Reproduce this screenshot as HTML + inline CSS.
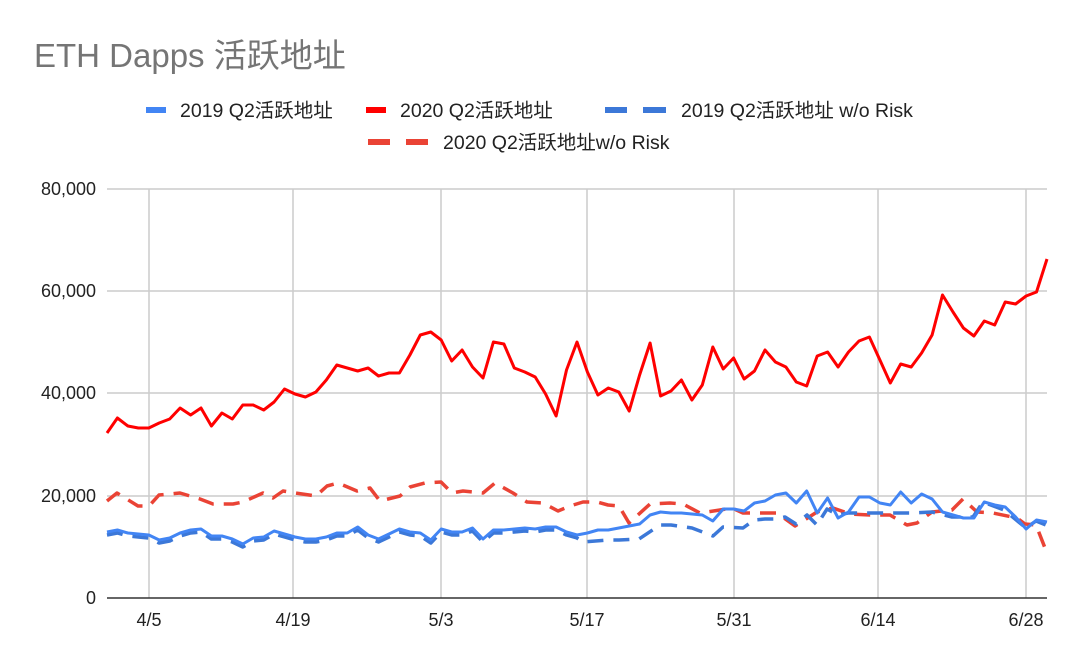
<!DOCTYPE html>
<html><head><meta charset="utf-8">
<style>
html,body{margin:0;padding:0;background:#fff;}
svg{display:block;font-family:"Liberation Sans","Noto Sans CJK SC",sans-serif;}
</style></head>
<body>
<svg id="c" width="1080" height="666" viewBox="0 0 1080 666" xmlns="http://www.w3.org/2000/svg">
<rect width="1080" height="666" fill="#fff"/>
<text x="34" y="67" font-size="33" fill="#757575">ETH Dapps 活跃地址</text>
<g font-size="19.5" fill="#222">
<line x1="146" y1="110" x2="166" y2="110" stroke="#4285f4" stroke-width="6"/>
<text x="180" y="117">2019 Q2活跃地址</text>
<line x1="366" y1="110" x2="386" y2="110" stroke="#ff0000" stroke-width="6"/>
<text x="400" y="117">2020 Q2活跃地址</text>
<line x1="605" y1="110" x2="627" y2="110" stroke="#3c78d8" stroke-width="6"/>
<line x1="643" y1="110" x2="666" y2="110" stroke="#3c78d8" stroke-width="6"/>
<text x="681" y="117">2019 Q2活跃地址 w/o Risk</text>
<line x1="368" y1="142" x2="390" y2="142" stroke="#ea4335" stroke-width="6"/>
<line x1="406" y1="142" x2="428" y2="142" stroke="#ea4335" stroke-width="6"/>
<text x="443" y="149">2020 Q2活跃地址w/o Risk</text>
</g>
<g stroke="#ccc" stroke-width="1.5">
<line x1="107" y1="189" x2="1047" y2="189"/>
<line x1="107" y1="291" x2="1047" y2="291"/>
<line x1="107" y1="393" x2="1047" y2="393"/>
<line x1="107" y1="496" x2="1047" y2="496"/>
<line x1="149" y1="189" x2="149" y2="598"/>
<line x1="293" y1="189" x2="293" y2="598"/>
<line x1="441" y1="189" x2="441" y2="598"/>
<line x1="587" y1="189" x2="587" y2="598"/>
<line x1="734" y1="189" x2="734" y2="598"/>
<line x1="878" y1="189" x2="878" y2="598"/>
<line x1="1026" y1="189" x2="1026" y2="598"/>
</g>
<line x1="107" y1="598" x2="1047" y2="598" stroke="#333" stroke-width="1.5"/>
<g font-size="18" fill="#222" text-anchor="end">
<text x="96" y="195">80,000</text>
<text x="96" y="297">60,000</text>
<text x="96" y="399">40,000</text>
<text x="96" y="502">20,000</text>
<text x="96" y="604">0</text>
</g>
<g font-size="18" fill="#222" text-anchor="middle">
<text x="149" y="626">4/5</text>
<text x="293" y="626">4/19</text>
<text x="441" y="626">5/3</text>
<text x="587" y="626">5/17</text>
<text x="734" y="626">5/31</text>
<text x="878" y="626">6/14</text>
<text x="1026" y="626">6/28</text>
</g>
<g id="series" fill="none" stroke-linejoin="round"></g>
</svg>
<script>
var X=function(i){return 107+i*10.444;};
var red=[433,418,426,428,428,423,419,408,415,408,426,413,419,405,405,410,402,389,394,397,392,380,365,368,371,368,376,373,373,355,335,332,340,361,350,367,378,342,344,368,372,377,394,416,370,342,
372,395,388,392,411,375,343,396,391,380,400,385,347,369,358,379,371,350,362,367,382,386,356,352,367,352,341,337,360,383,364,367,353,335,295,312,328,336,321,325,302,304,296,292,259];
var blue=[532,530,533,534,535,540,538,533,530,529,536,536,539,544,538,537,531,534,537,539,539,537,533,533,527,535,539,534,529,532,533,540,529,532,532,528,539,530,530,529,528,529,527,527,532,535,
533,530,530,528,526,524,515,512,513,513,514,515,521,509,509,511,503,501,495,493,503,491,513,498,518,512,497,497,503,505,492,503,494,499,512,515,518,518,502,505,507,517,529,520,522];
function pts(a){return a.map(function(y,i){return X(i).toFixed(1)+","+y;}).join(" ");}
function ptsXY(a){return a.map(function(p){return p[0]+","+p[1];}).join(" ");}
var bd=blue.slice(0,46).map(function(y,i){return [X(i).toFixed(1),y+3];});
bd=bd.concat([[583,542],[608,540],[619,540],[639,539],[660,525],[671,525],[692,528],[713,536],[723,527],[743,528],[754,520],[765,519],[775,519],[785,517],[796,524],[807,515],[817,525],[827,509],[838,515],[848,513],[869,513],[890,513],[911,513],[932,512],[952,517],[973,517],[983,502],[1004,510],[1026,528],[1036,521],[1046,525]]);
var rd=[[107,501],[117,493],[138,506],[149,506],[159,495],[180,493],[200,499],[213,504],[233,504],[243,502],[263,493],[273,498],[283,491],[295,493],[316,496],[327,486],[338,483],[357,491],[370,488],[380,501],[400,496],[410,487],[425,483],[441,482],[452,493],[463,491],[483,493],[495,483],[513,493],[527,502],[543,503],[558,511],[570,506],[583,502],[597,502],[608,505],[619,506],[629,523],[650,504],[670,503],[683,504],[700,513],[720,510],[732,508],[743,513],[777,513],[795,526],[817,512],[833,508],[850,514],[870,515],[890,515],[907,525],[917,523],[932,512],[952,510],[963,499],[977,512],[993,513],[1017,518],[1025,524],[1036,525],[1045,548]];
var g=document.getElementById("series");
g.innerHTML=
'<polyline points="'+ptsXY(rd)+'" stroke="#ea4335" stroke-width="3.5" stroke-dasharray="16,10"/>'+
'<polyline points="'+ptsXY(bd)+'" stroke="#3c78d8" stroke-width="3.5" stroke-dasharray="16,10"/>'+
'<polyline points="'+pts(blue)+'" stroke="#4285f4" stroke-width="3"/>'+
'<polyline points="'+pts(red)+'" stroke="#ff0000" stroke-width="3"/>';
</script>
</body></html>
